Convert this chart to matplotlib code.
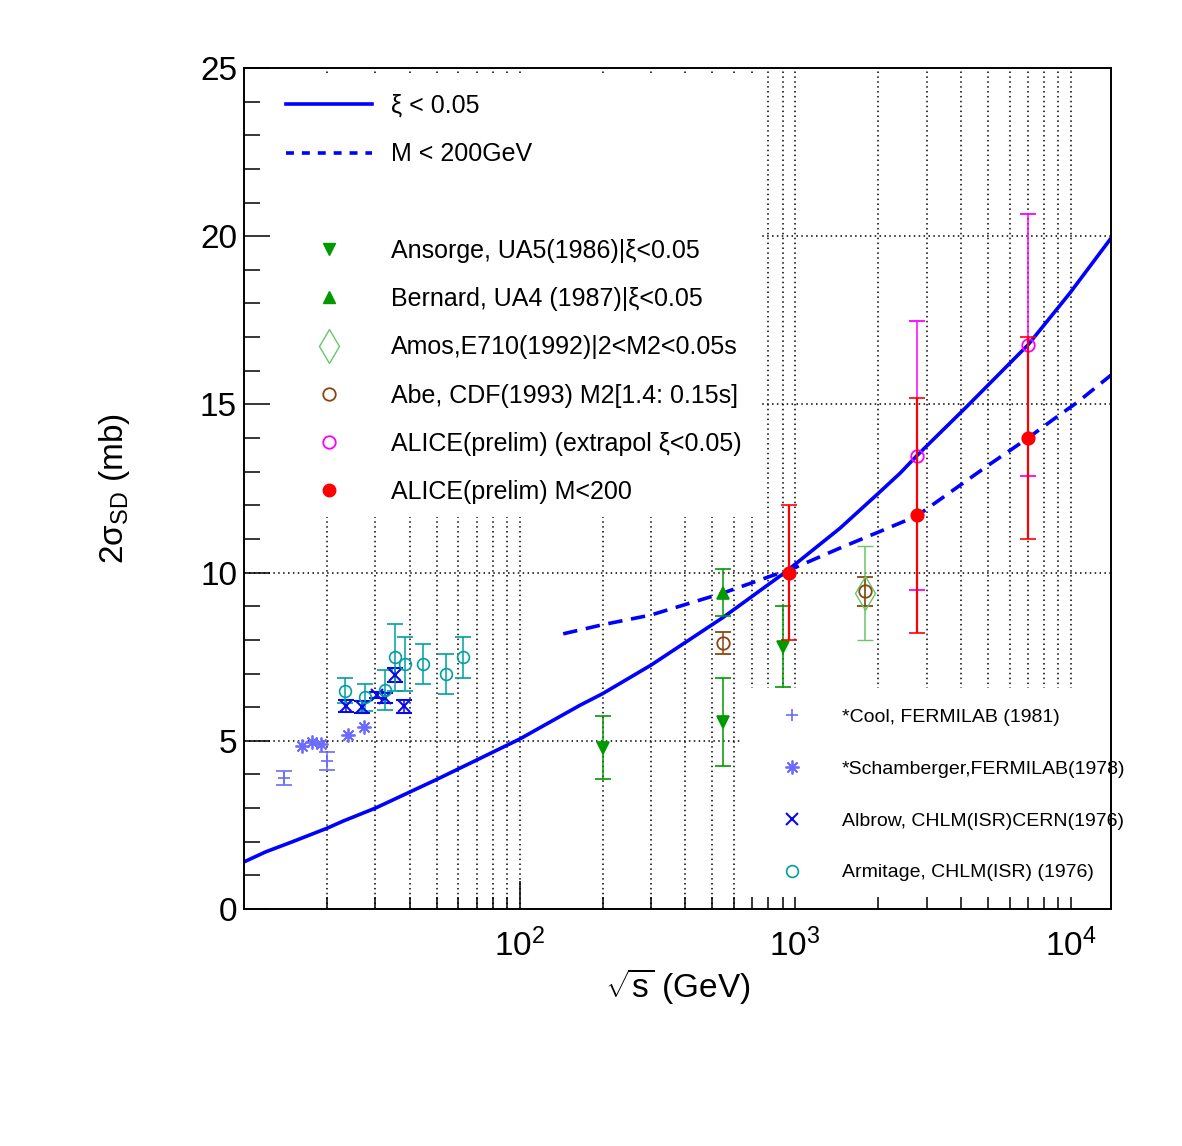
import matplotlib
matplotlib.use('Agg')
import matplotlib.pyplot as plt
import matplotlib.ticker as ticker
from matplotlib.lines import Line2D
from matplotlib.patches import Rectangle

plt.rcParams['font.family'] = ['Liberation Sans', 'DejaVu Sans']
plt.rcParams['mathtext.fontset'] = 'custom'
plt.rcParams['mathtext.rm'] = 'Liberation Sans'
plt.rcParams['mathtext.it'] = 'Liberation Sans:italic'
plt.rcParams['mathtext.bf'] = 'Liberation Sans:bold'

# model curves
xi_sqrts = [10, 12, 15, 20, 23, 30, 50, 72, 100, 166, 200, 300, 546, 910, 1455,
            2000, 2400, 2760, 4190, 7000, 9910, 14000]
xi_sigma = [1.40, 1.70, 2.00, 2.40, 2.62, 3.00, 3.85, 4.48, 5.05, 6.06, 6.40, 7.25,
            8.66, 9.98, 11.32, 12.35, 12.95, 13.47, 14.93, 16.77, 18.30, 19.94]
m200_sqrts = [144, 200, 300, 546, 1000, 1455, 2000, 2760, 4940, 7000, 8600, 10600, 14000]
m200_sigma = [8.18, 8.45, 8.74, 9.39, 10.15, 10.73, 11.20, 11.68, 13.15, 14.00, 14.54,
              15.07, 15.87]

# measurements
ua5_sqrts = [200, 546, 900]
ua5_sigma = [4.80, 5.56, 7.80]
ua5_err = [0.95, 1.30, 1.20]

ua4_sqrts = [546]
ua4_sigma = [9.40]
ua4_err = [0.70]

e710_sqrts = [1800]
e710_sigma = [9.40]
e710_err = [1.40]

cdf_sqrts = [546, 1800]
cdf_sigma = [7.90, 9.45]
cdf_err = [0.33, 0.43]

alice_xi_sqrts = [2760, 7000]
alice_xi_sigma = [13.47, 16.77]
alice_xi_err = [4.0, 3.9]

alice_m_sqrts = [950, 2760, 7000]
alice_m_sigma = [10.0, 11.7, 14.0]
alice_m_err = [2.0, 3.5, 3.0]

cool_sqrts = [14.0, 20.0]
cool_sigma = [3.90, 4.40]
cool_err = [0.20, 0.27]

scham_sqrts = [16.2, 17.6, 19.0, 23.8, 27.3]
scham_sigma = [4.85, 4.95, 4.90, 5.17, 5.42]

albrow_sqrts = [23.5, 26.9, 30.5, 32.4, 35.3, 38.1]
albrow_sigma = [6.03, 6.01, 6.36, 6.27, 6.96, 6.03]
albrow_err = [0.17, 0.17, 0.10, 0.15, 0.20, 0.19]

armit_sqrts = [23.3, 27.4, 32.4, 35.3, 38.3, 44.6, 54.0, 62.5]
armit_sigma = [6.49, 6.29, 6.51, 7.48, 7.28, 7.28, 6.99, 7.48]
armit_err = [0.38, 0.39, 0.60, 1.00, 0.80, 0.60, 0.60, 0.60]

GREEN = '#009a00'
LGREEN = '#66c866'
BROWN = '#8b4513'
MAGENTA = '#ff00ff'
RED = '#ff0000'
LBLUE = '#6b6bff'
BLUE = '#0a0ae6'
TEAL = '#00a0a0'
ASTER = (8, 2, 0)

fig = plt.figure(figsize=(11.82, 11.46), dpi=100)
ax = fig.add_axes([0.20643, 0.20681, 0.73350, 0.73386])
ax.set_xscale('log')
ax.set_xlim(10, 14000)
ax.set_ylim(0, 25)

# dotted grid, partly hidden by the legend boxes
grid_x = [v * d for d in (10, 100, 1000) for v in range(2, 10)] + [100, 1000, 10000]
for gx in grid_x:
    ax.axvline(gx, color='black', lw=1.1, ls=(0, (1, 2.2)), zorder=0.8)
for gy in [5, 10, 15, 20]:
    ax.axhline(gy, color='black', lw=1.1, ls=(0, (1, 2.2)), zorder=0.8)
ax.add_patch(Rectangle((0, 0.466), 0.597, 0.524, transform=ax.transAxes,
                       facecolor='white', edgecolor='none', zorder=1))
ax.add_patch(Rectangle((0.574, 0), 0.426, 0.263, transform=ax.transAxes,
                       facecolor='white', edgecolor='none', zorder=1))

# curves
ax.plot(xi_sqrts, xi_sigma, color='#0000ff', lw=2.6, zorder=2)
ax.plot(m200_sqrts, m200_sigma, color='#0000ff', lw=2.6, dashes=(4.0, 2.4), zorder=2)


def points(x, y, err, color, marker, ms, mfc=None, mew=1.2, elw=1.1, z=3):
    ax.errorbar(x, y, yerr=err, fmt=marker, color=color, ms=ms,
                mfc=color if mfc is None else mfc, mec=color, mew=mew,
                elinewidth=elw, capsize=5.5, capthick=elw, zorder=z)


points(ua5_sqrts, ua5_sigma, ua5_err, GREEN, 'v', 8.5)
points(ua4_sqrts, ua4_sigma, ua4_err, GREEN, '^', 8.5)
points(e710_sqrts, e710_sigma, e710_err, LGREEN, 'd', 17, mfc='none', mew=1.0)
points(cdf_sqrts, cdf_sigma, cdf_err, BROWN, 'o', 9, mfc='none', mew=1.3)
points(alice_xi_sqrts, alice_xi_sigma, alice_xi_err, MAGENTA, 'o', 9, mfc='none', mew=1.3)
points(alice_m_sqrts, alice_m_sigma, alice_m_err, RED, 'o', 9, elw=1.6, z=4)
points(cool_sqrts, cool_sigma, cool_err, LBLUE, '+', 9)
ax.plot(scham_sqrts, scham_sigma, ls='none', marker=ASTER, color=LBLUE, ms=10, mew=1.3, zorder=3)
points(albrow_sqrts, albrow_sigma, albrow_err, BLUE, 'x', 8.5, mew=1.5)
points(armit_sqrts, armit_sigma, armit_err, TEAL, 'o', 8.5, mfc='none', mew=1.2)

# axes cosmetics
for s in ax.spines.values():
    s.set_linewidth(1.4)
ax.yaxis.set_major_locator(ticker.MultipleLocator(5))
ax.yaxis.set_minor_locator(ticker.MultipleLocator(1))
ax.xaxis.set_major_locator(ticker.FixedLocator([100, 1000, 10000]))
ax.xaxis.set_major_formatter(ticker.LogFormatterMathtext())
ax.xaxis.set_minor_locator(ticker.LogLocator(base=10, subs=range(2, 10), numticks=20))
ax.xaxis.set_minor_formatter(ticker.NullFormatter())
ax.tick_params(axis='both', which='both', direction='in', top=False, right=False,
               width=1.1, labelsize=24)
ax.tick_params(axis='y', which='major', length=19, pad=5)
ax.tick_params(axis='y', which='minor', length=11.5)
ax.tick_params(axis='x', which='both', length=8.5, pad=14)
ax.xaxis.get_major_ticks()[0].tick1line.set_markersize(20)

ax.set_xlabel(r'$\sqrt{\mathregular{s}}$ (GeV)', fontsize=24)
ax.xaxis.set_label_coords(0.5, -0.068)
ax.set_ylabel(r'2σ$_{\mathregular{SD}}$ (mb)', fontsize=24)
ax.yaxis.set_label_coords(-0.129, 0.5)

# legends
top_handles = [
    Line2D([], [], color='#0000ff', lw=2.6),
    Line2D([], [], color='#0000ff', lw=2.6, dashes=(2.2, 2.2)),
    Line2D([], [], ls='none'),
    Line2D([], [], ls='none', marker='v', color=GREEN, ms=8.5),
    Line2D([], [], ls='none', marker='^', color=GREEN, ms=8.5),
    Line2D([], [], ls='none', marker='d', color=LGREEN, mfc='none', ms=17, mew=1.0),
    Line2D([], [], ls='none', marker='o', color=BROWN, mfc='none', ms=9, mew=1.3),
    Line2D([], [], ls='none', marker='o', color=MAGENTA, mfc='none', ms=9, mew=1.3),
    Line2D([], [], ls='none', marker='o', color=RED, ms=9),
]
top_labels = ['ξ < 0.05', 'M < 200GeV', ' ',
              'Ansorge, UA5(1986)|ξ<0.05',
              'Bernard, UA4 (1987)|ξ<0.05',
              'Amos,E710(1992)|2<M2<0.05s',
              'Abe, CDF(1993) M2[1.4: 0.15s]',
              'ALICE(prelim) (extrapol ξ<0.05)',
              'ALICE(prelim) M<200']
leg1 = ax.legend(top_handles, top_labels, loc='upper left', bbox_to_anchor=(0.0484, 0.9690),
                 frameon=False, fontsize=18, borderpad=0, borderaxespad=0, labelspacing=0.97,
                 handlelength=3.44, handleheight=0.7, handletextpad=0.76, numpoints=1)
ax.add_artist(leg1)

bot_handles = [
    Line2D([], [], ls='none', marker='+', color=LBLUE, ms=9, mew=1.2),
    Line2D([], [], ls='none', marker=ASTER, color=LBLUE, ms=10, mew=1.3),
    Line2D([], [], ls='none', marker='x', color=BLUE, ms=8.5, mew=1.5),
    Line2D([], [], ls='none', marker='o', color=TEAL, mfc='none', ms=8.5, mew=1.2),
]
bot_labels = ['*Cool, FERMILAB (1981)', '*Schamberger,FERMILAB(1978)',
              'Albrow, CHLM(ISR)CERN(1976)', 'Armitage, CHLM(ISR) (1976)']
ax.legend(bot_handles, bot_labels, loc='upper left', bbox_to_anchor=(0.609, 0.2390),
          frameon=False, fontsize=14, borderpad=0, borderaxespad=0, labelspacing=1.766,
          handlelength=2.06, handleheight=0.7, handletextpad=1.54, numpoints=1)

fig.savefig('out.png', dpi=100)
